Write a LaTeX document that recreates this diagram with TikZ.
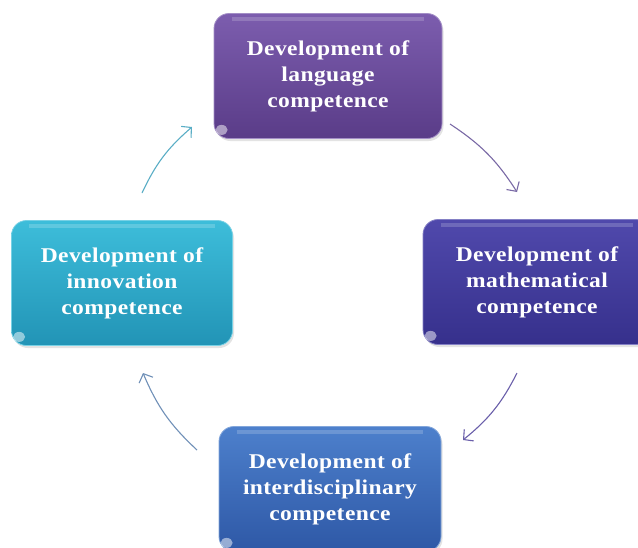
\documentclass[tikz,border=0pt]{standalone}
\usepackage{fontspec}
\setmainfont{Liberation Serif}[FakeStretch=1.12,LetterSpace=2]
\usetikzlibrary{arrows.meta,shadows}
\definecolor{purpT}{HTML}{7C5DAE}
\definecolor{purpB}{HTML}{5A3C88}
\definecolor{indT}{HTML}{5049AC}
\definecolor{indB}{HTML}{36308C}
\definecolor{tealT}{HTML}{3DBDDA}
\definecolor{tealB}{HTML}{2294B6}
\definecolor{bluT}{HTML}{4D80CC}
\definecolor{bluB}{HTML}{2E58A6}
\definecolor{arTeal}{HTML}{5AAEC6}
\definecolor{arPurp}{HTML}{7A6AA6}
\definecolor{arInd}{HTML}{6A5FAA}
\definecolor{arBlue}{HTML}{7090B8}
\tikzset{
  compbox/.style={rounded corners=15pt, minimum height=125pt, align=center,
    text=white, font=\fontsize{21}{26}\selectfont\bfseries, inner sep=0pt,
    drop shadow={opacity=0.22, shadow xshift=1.5pt, shadow yshift=-2.5pt}},
  cyc/.style={line width=1.1pt, -{Straight Barb[length=7pt,width=15pt]}}
}
\begin{document}
\begin{tikzpicture}[x=1pt,y=-1pt]
\clip (0,0) rectangle (638,547);
\fill[white] (0,0) rectangle (638,547);
\node[compbox, minimum width=228pt, top color=purpT, bottom color=purpB,
  draw=purpT!70!white, line width=0.8pt] (lang) at (328,76)
  {Development of\\language\\competence};
\node[compbox, minimum width=228pt, top color=indT, bottom color=indB,
  draw=indT!70!white, line width=0.8pt] (math) at (537,282)
  {Development of\\mathematical\\competence};
\node[compbox, minimum width=221pt, top color=tealT, bottom color=tealB,
  draw=tealT!70!white, line width=0.8pt] (innov) at (122,283)
  {Development of\\innovation\\competence};
\node[compbox, minimum width=222pt, top color=bluT, bottom color=bluB,
  draw=bluT!70!white, line width=0.8pt] (inter) at (330,489)
  {Development of\\interdisciplinary\\competence};
% glossy corner highlights
\foreach \n in {lang,math,innov,inter}{
  \fill[white, opacity=0.5] ([xshift=8pt,yshift=9pt]\n.south west) ellipse (6pt and 5pt);
  \draw[white, opacity=0.18, line width=4pt] ([xshift=18pt,yshift=-6pt]\n.north west) -- ([xshift=-18pt,yshift=-6pt]\n.north east);
}
% cycle arrows
\coordinate (a1s) at (142,193); \coordinate (a1e) at (192,127);
\coordinate (a2s) at (450,124); \coordinate (a2e) at (517,192);
\coordinate (a3s) at (517,373); \coordinate (a3e) at (463,440);
\coordinate (a4s) at (197,450); \coordinate (a4e) at (143,373);
\draw[cyc, arTeal] (a1s) to[bend left=12] (a1e);
\draw[cyc, arPurp] (a2s) to[bend left=12] (a2e);
\draw[cyc, arInd] (a3s) to[bend left=12] (a3e);
\draw[cyc, arBlue] (a4s) to[bend left=12] (a4e);
\end{tikzpicture}
\end{document}
